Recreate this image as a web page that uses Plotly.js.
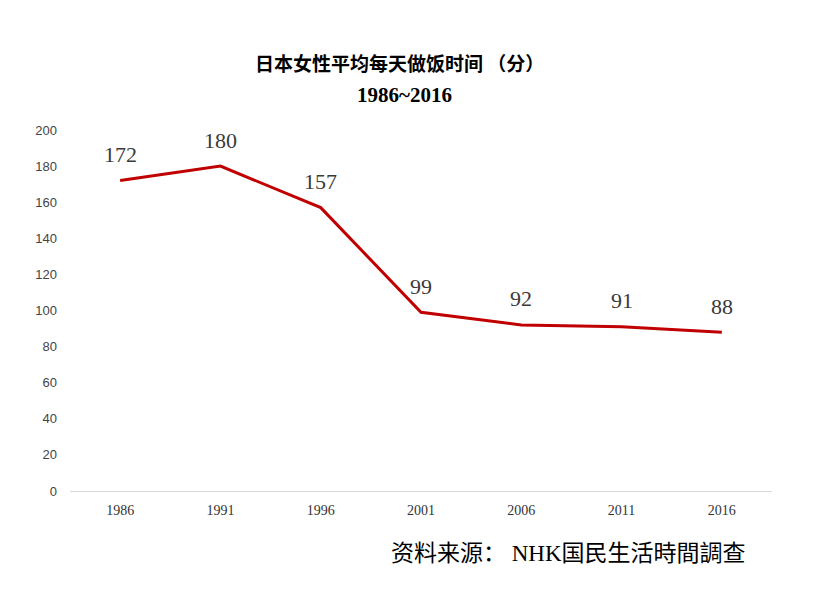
<!DOCTYPE html>
<html><head><meta charset="utf-8">
<script src="https://cdn.plot.ly/plotly-3.0.1.min.js"></script>
<style>body{margin:0}#c{width:819px;height:598px}</style>
</head><body><div id="c"></div>
<script>
const years = ['1986','1991','1996','2001','2006','2011','2016'];
const minutes = [172, 180, 157, 99, 92, 91, 88];
const labels = minutes.map(String);
const yTicks = [0,20,40,60,80,100,120,140,160,180,200];

const serif = '"Liberation Serif", "Noto Sans CJK SC", serif';
const sans = '"Liberation Sans", Arial, sans-serif';
const trace = {
  x: years, y: minutes, type: 'scatter', mode: 'lines',
  line: {color: '#C00000', width: 3},
  cliponaxis: false, hoverinfo: 'skip'
};
const valueAnns = years.map((yr, i) => ({
  x: i, y: minutes[i], xref: 'x', yref: 'y', text: labels[i], showarrow: false,
  xanchor: 'center', yanchor: 'middle', yshift: 26,
  font: {family: serif, size: 22, color: '#3a3a3a'}
}));
const layout = {
  width: 819, height: 598,
  margin: {l: 70, r: 47, t: 130, b: 107},
  paper_bgcolor: '#fff', plot_bgcolor: '#fff',
  showlegend: false,
  xaxis: {type: 'category', range: [-0.5, 6.5], showgrid: false, showline: true, linecolor: '#d9d9d9', linewidth: 1,
    ticks: '', tickfont: {family: serif, size: 14, color: '#333'}, zeroline: false, ticklabelstandoff: 6},
  yaxis: {range: [0, 200], tickvals: yTicks, showgrid: false, showline: false, zeroline: false,
    ticks: '', tickfont: {family: sans, size: 13, color: '#444'}, ticklabelstandoff: 12},
  annotations: valueAnns.concat([
    {text: '<b>日本女性平均每天做饭时间 （分）</b>', xref: 'paper', yref: 'paper', x: 0.47, xanchor: 'center',
     y: 1, yanchor: 'middle', yshift: 68, showarrow: false,
     font: {family: '"Noto Sans CJK SC", sans-serif', size: 19, color: '#000'}},
    {text: '<b>1986~2016</b>', xref: 'paper', yref: 'paper', x: 0.477, xanchor: 'center',
     y: 1, yanchor: 'middle', yshift: 35, showarrow: false,
     font: {family: serif, size: 21, color: '#000'}},
    {text: '资料来源： NHK国民生活時間調查', xref: 'paper', yref: 'paper',
     x: 1.0, y: 0, xanchor: 'right', yanchor: 'middle', showarrow: false, xshift: -24, yshift: -62,
     font: {family: serif, size: 23, color: '#000'}}
  ])
};
Plotly.newPlot('c', [trace], layout, {displayModeBar: false, staticPlot: true});
</script></body></html>
